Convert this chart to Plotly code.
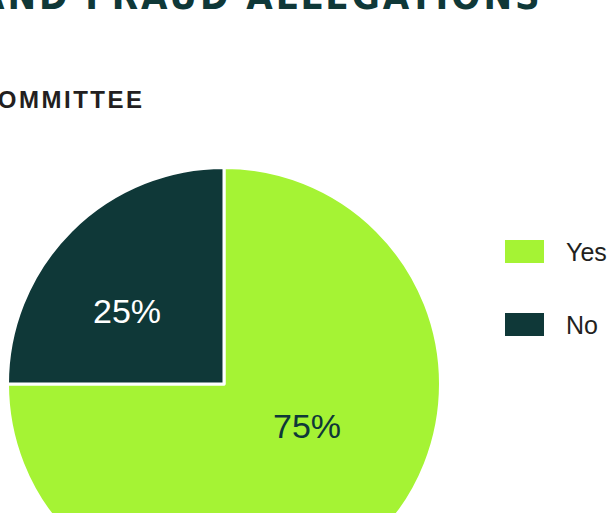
import plotly.graph_objects as go

# data
labels = ["Yes", "No"]
values = [75, 25]
colors = ["#a5f334", "#0f3838"]
text_colors = ["#0f3838", "#ffffff"]

title_text = "WHISTLEBLOWER AND FRAUD ALLEGATIONS"
subtitle_text = "AUDIT COMMITTEE"

W, H = 614, 620
FONT = "Liberation Sans, Arial, Helvetica, sans-serif"


def px_x(x):
    return x / W


def px_y(y):
    return 1 - y / H


fig = go.Figure()
fig.add_trace(
    go.Pie(
        labels=labels,
        values=values,
        sort=False,
        direction="clockwise",
        rotation=0,
        marker=dict(colors=colors, line=dict(color="white", width=3)),
        textinfo="none",
        domain=dict(x=[px_x(7.5), px_x(440.5)], y=[px_y(600.5), px_y(167.5)]),
        showlegend=False,
        hoverinfo="label+percent",
    )
)

# percentage labels placed like the original (off the plotly bisector)
total = sum(values)
label_pos = [(307, 426), (127, 311)]
annotations = []
for v, (lx, ly), tc in zip(values, label_pos, text_colors):
    annotations.append(
        dict(
            text=f"{v / total * 100:.0f}%", xref="paper", yref="paper",
            x=px_x(lx), y=px_y(ly), xanchor="center", yanchor="middle",
            showarrow=False, font=dict(family=FONT, size=34, color=tc),
        )
    )

# legend drawn by hand so the keys can be wide boxes like the original
shapes = []
for i, (lab, col) in enumerate(zip(labels, colors)):
    top = 240 + i * 73
    shapes.append(
        dict(
            type="rect", xref="paper", yref="paper",
            x0=px_x(505), x1=px_x(544), y0=px_y(top + 23), y1=px_y(top),
            fillcolor=col, line=dict(width=0),
        )
    )
    annotations.append(
        dict(
            text=lab, xref="paper", yref="paper",
            x=px_x(564), y=px_y(top + 12), xanchor="left", yanchor="middle",
            showarrow=False, font=dict(family=FONT, size=25, color="#231f20"),
        )
    )

annotations.append(
    dict(
        text='<span style="letter-spacing:3px">' + title_text + "</span>",
        xref="paper", yref="paper", x=px_x(545), y=px_y(20),
        xanchor="right", yanchor="bottom", showarrow=False,
        font=dict(family="DejaVu Sans Condensed, Liberation Sans Narrow, sans-serif",
                  size=38, color="#0f3838", weight="bold"),
    )
)
annotations.append(
    dict(
        text='<span style="letter-spacing:2.5px">' + subtitle_text + "</span>",
        xref="paper", yref="paper", x=px_x(146), y=px_y(100),
        xanchor="right", yanchor="middle", showarrow=False,
        font=dict(family=FONT, size=24, color="#231f20", weight="bold"),
    )
)

fig.update_layout(
    width=W,
    height=H,
    margin=dict(l=0, r=0, t=0, b=0),
    paper_bgcolor="white",
    plot_bgcolor="white",
    shapes=shapes,
    annotations=annotations,
)

fig.write_html(
    "out.html",
    config={"displayModeBar": False},
    post_script="document.body.style.margin='0';document.body.style.overflow='hidden';",
)
